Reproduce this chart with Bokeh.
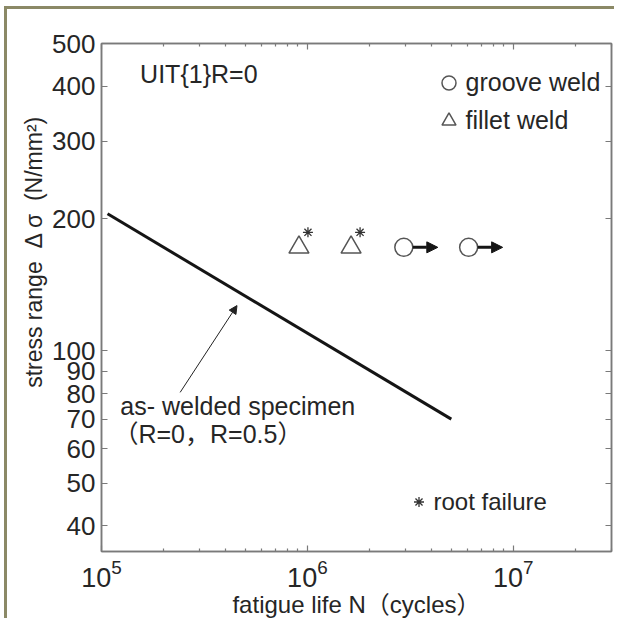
import math
from bokeh.plotting import figure
from bokeh.models import (LogAxis, FixedTicker, BasicTickFormatter, Label, Arrow,
                          NormalHead, Legend, LegendItem, ColumnDataSource, Range1d,
                          LogTickFormatter, CustomJSTickFormatter, Title)
from bokeh.embed import file_html
from bokeh.resources import INLINE

# ---------------- data ----------------
sn_cycles = [1.07e5, 5.0e6]          # as-welded S-N line
sn_stress = [205.0, 70.0]
groove_cycles = [2.94e6, 6.07e6]      # groove weld, UIT, run-out
groove_stress = [172.0, 172.0]
fillet_cycles = [9.1e5, 1.63e6]       # fillet weld, UIT
fillet_stress = [172.0, 172.0]
root_failure_cycles = [9.1e5, 1.63e6]  # root failure flags
root_failure_stress = [172.0, 172.0]
x_major_ticks = [1e5, 1e6, 1e7]
y_ticks = [40, 50, 60, 70, 80, 90, 100, 200, 300, 400, 500]

X_MIN, X_MAX = 1e5, 3e7
Y_MIN, Y_MAX = 35, 500

FONT = "Liberation Sans"
FONT_CJK = "'Liberation Sans', 'Noto Sans CJK SC'"
TXT = "#262626"
AX = "#7a7a7a"
OLIVE = "#8b8966"

# canvas placed at page (7, 9) after margin + olive border
OX, OY = 7, 9
W, H = 617 - OX, 621 - OY
ML, MR, MT, MB = 101 - OX, 6, 43 - OY, 70
FW, FH = W - ML - MR, H - MT - MB


def fx(px):
    return 10 ** (px * math.log10(X_MAX / X_MIN) / FW)


def fy(px):
    return 10 ** (px * math.log10(Y_MAX / Y_MIN) / FH)


p = figure(width=W, height=H, x_axis_type="log", y_axis_type="log",
           x_range=Range1d(X_MIN, X_MAX), y_range=Range1d(Y_MIN, Y_MAX),
           output_backend="svg", toolbar_location=None,
           min_border_left=ML, min_border_right=MR, min_border_top=MT, min_border_bottom=MB)
p.styles = {"margin-left": "4px", "margin-top": "6px",
            "border-left": f"3px solid {OLIVE}", "border-top": f"3px solid {OLIVE}"}
p.xgrid.visible = False
p.ygrid.visible = False
p.outline_line_color = AX
p.outline_line_width = 1.5
p.background_fill_color = "white"
p.border_fill_color = "white"

x_minor = [k * 10 ** e for e in range(5, 8) for k in range(2, 10) if k * 10 ** e <= X_MAX]

# bottom axis
xa = p.xaxis[0]
xa.ticker = FixedTicker(ticks=x_major_ticks, minor_ticks=x_minor)
xa.formatter = LogTickFormatter()
xa.axis_label = "fatigue life N（cycles）"

# left axis
ya = p.yaxis[0]
ya.ticker = FixedTicker(ticks=y_ticks, minor_ticks=[])
ya.formatter = BasicTickFormatter()

# top & right axes (ticks only)
blank = CustomJSTickFormatter(code="return ''")
top = LogAxis(ticker=FixedTicker(ticks=x_major_ticks, minor_ticks=x_minor), formatter=blank)
right = LogAxis(ticker=FixedTicker(ticks=y_ticks, minor_ticks=[]), formatter=blank)
p.add_layout(top, "above")
p.add_layout(right, "right")

for ax in (xa, ya, top, right):
    ax.axis_line_color = AX
    ax.axis_line_width = 1.5
    ax.major_tick_line_color = AX
    ax.minor_tick_line_color = AX
    ax.major_tick_line_width = 1.2
    ax.minor_tick_line_width = 1.2
    ax.major_tick_in = 6
    ax.major_tick_out = 0
    ax.minor_tick_in = 3
    ax.minor_tick_out = 0
    ax.major_label_text_font = FONT
    ax.major_label_text_color = TXT
    ax.major_label_text_font_size = "26px"
    ax.axis_label_text_font = FONT_CJK
    ax.axis_label_text_color = TXT
    ax.axis_label_text_font_style = "normal"

for ax in (top, right):
    ax.major_label_standoff = 0

xa.major_label_text_font_size = "27px"
xa.major_label_standoff = 7
xa.axis_label_text_font_size = "24px"
xa.axis_label_standoff = 1
ya.major_label_standoff = 6

# y axis title (placed towards the top like the reference)
p.add_layout(Title(text="stress range\u00a0 Δ σ\u00a0 (N/mm²)", align="right", offset=72,
                   text_font=FONT, text_font_size="23px", text_color=TXT,
                   text_font_style="normal", standoff=6), "left")

# S-N line
p.line(sn_cycles, sn_stress, line_width=3, line_color="#151515")

# data markers
r_groove = p.scatter(groove_cycles, groove_stress, marker="circle", size=18,
                     fill_color="white", line_color="#555555", line_width=1.5)
r_fillet = p.scatter(fillet_cycles, fillet_stress, marker="triangle", size=20,
                     fill_color="white", line_color="#555555", line_width=1.5)
r_root = p.scatter([c * fx(9) for c in root_failure_cycles],
                   [s * fy(15) for s in root_failure_stress],
                   marker="asterisk", size=10, line_color="#333333", line_width=1.3)

# run-out arrows
ro = ColumnDataSource(dict(
    x0=[c * fx(9) for c in groove_cycles], y0=groove_stress,
    x1=[c * fx(34) for c in groove_cycles], y1=groove_stress))
p.add_layout(Arrow(source=ro, x_start="x0", y_start="y0", x_end="x1", y_end="y1",
                   line_width=3, line_color="#151515",
                   end=NormalHead(size=11, fill_color="#151515", line_color="#151515")))

# annotation arrow
p.add_layout(Arrow(x_start=2.41e5, y_start=80.5, x_end=4.55e5, y_end=126.8,
                   line_width=1, line_color="#222222",
                   end=NormalHead(size=8, fill_color="#222222", line_color="#222222")))

p.add_layout(Label(x=1.235e5, y=75.1, text="as- welded specimen", text_font=FONT,
                   text_font_size="25px", text_color=TXT, text_baseline="middle"))
p.add_layout(Label(x=1.143e5, y=64.9, text="（R=0，R=0.5）", text_font=FONT_CJK,
                   text_font_size="25px", text_color=TXT, text_baseline="middle"))
p.add_layout(Label(x=1.54e5, y=427, text="UIT{1}R=0", text_font=FONT,
                   text_font_size="25px", text_color=TXT, text_baseline="middle"))

# legends
leg1 = Legend(items=[LegendItem(label="groove weld", renderers=[r_groove]),
                     LegendItem(label="fillet weld", renderers=[r_fillet])],
              location=(448 - 17.5 - 101, 551 - (82 - 17.5 + 73)),
              glyph_width=35, glyph_height=35, spacing=3, padding=0, margin=0,
              label_standoff=0, label_text_font=FONT, label_text_font_size="25px",
              label_text_color=TXT, background_fill_alpha=0, border_line_alpha=0)
leg2 = Legend(items=[LegendItem(label="root failure", renderers=[r_root])],
              location=(418 - 12.5 - 101, 551 - (503 + 12.5)),
              glyph_width=25, glyph_height=25, spacing=0, padding=0, margin=0,
              label_standoff=3, label_text_font=FONT, label_text_font_size="24px",
              label_text_color=TXT, background_fill_alpha=0, border_line_alpha=0)
p.add_layout(leg1)
p.add_layout(leg2)

open("out.html", "w").write(file_html(p, INLINE))
